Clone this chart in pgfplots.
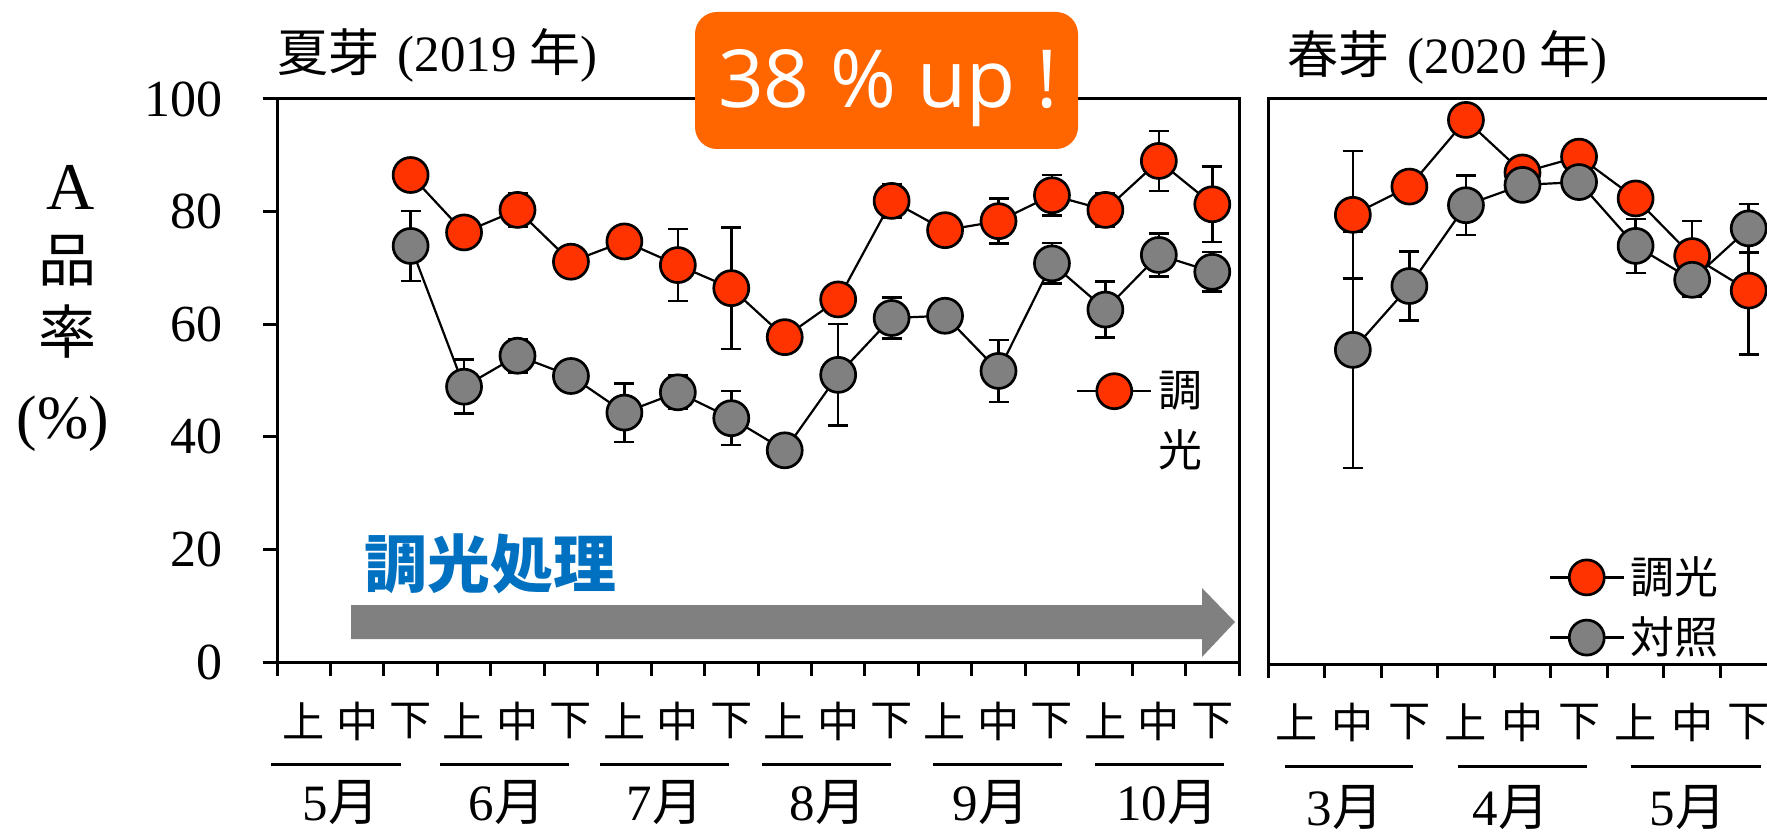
\documentclass[border=0pt]{standalone}
\usepackage{pgfplots}
\usepackage{pgfplotstable}
\pgfplotsset{compat=1.18}
\usepackage{fontspec}
\setmainfont{Liberation Serif}
\newfontfamily\cjk{Noto Sans CJK JP}
\newfontfamily\badgefont{Open Sans}

\definecolor{dimmed}{HTML}{FF3300}
\definecolor{control}{HTML}{808080}
\definecolor{badge}{HTML}{FF6600}
\definecolor{procblue}{HTML}{0070C0}

% slot index (centre of each ten-day period), mean, error
\pgfplotstableread{
x    y    e
2.5  86.5 0
3.5  76.3 0
4.5  80.3 3.0
5.5  71.1 0
6.5  74.7 0
7.5  70.5 6.4
8.5  66.4 10.8
9.5  57.7 0
10.5 64.4 0
11.5 81.9 3.0
12.5 76.7 0
13.5 78.3 4.0
14.5 82.9 3.6
15.5 80.3 3.0
16.5 89.0 5.3
17.5 81.3 6.7
}\summerDim
\pgfplotstableread{
x    y    e
2.5  73.9 6.2
3.5  48.9 4.8
4.5  54.4 3.0
5.5  50.8 0
6.5  44.3 5.2
7.5  47.9 3.0
8.5  43.3 4.8
9.5  37.6 0
10.5 51.0 9.0
11.5 61.1 3.6
12.5 61.5 0
13.5 51.7 5.5
14.5 70.8 3.6
15.5 62.6 5.0
16.5 72.3 3.8
17.5 69.3 3.5
}\summerCtl
\pgfplotstableread{
x    y    e
1.5  79.5 11.3
2.5  84.5 0
3.5  96.3 0
4.5  87.0 2.5
5.5  89.8 0
6.5  82.4 0
7.5  72.2 6.2
8.5  66.1 11.3
}\springDim
\pgfplotstableread{
x    y    e
1.5  55.6 20.9
2.5  66.9 6.1
3.5  81.2 5.3
4.5  84.8 1.5
5.5  85.3 0
6.5  74.0 4.8
7.5  68.0 3.0
8.5  77.1 4.3
}\springCtl

\pgfplotsset{
  panel/.style={
    scale only axis, anchor=south west,
    ymin=0, ymax=100,
    axis line style={line width=0.3mm},
    every tick/.style={black, line width=0.3mm},
    tick align=outside,
    major tick length=1.35mm,
    xtick pos=bottom, ytick pos=left,
    xticklabels={},
    clip=false,
    legend image code/.code={%
      \draw[mark repeat=2, mark phase=2, ##1]
        plot coordinates {(0mm,0mm) (3.7mm,0mm) (7.4mm,0mm)};},
  },
  serie/.style={black, line width=0.22mm, mark=*, mark size=1.75mm,
    mark options={fill=#1, draw=black, line width=0.27mm},
    error bars/y dir=both, error bars/y explicit,
    error bars/error bar style={line width=0.25mm, black},
    error bars/error mark options={rotate=90, mark size=1mm, line width=0.25mm, black}},
}

\newcommand\period[1]{\ifcase#1 上\or 中\or 下\fi}

\begin{document}
\begin{tikzpicture}
\useasboundingbox (0,0) rectangle (176.7mm,83.4mm);
\clip (0,0) rectangle (176.7mm,83.4mm);

% ---- summer buds, 2019 ----
\begin{axis}[panel,
  at={(27.7mm,17.2mm)}, width=96.2mm, height=56.3mm,
  xmin=0, xmax=18, xtick={0,...,18},
  ytick={0,20,...,100},
  yticklabel style={font=\fontsize{14.8}{14.8}\selectfont, anchor=east, inner sep=0pt},
  yticklabel shift=4.0mm,
  /pgf/number format/assume math mode=true,
  legend style={at={(0.83,0.481)}, anchor=west, draw=none, fill=none,
    inner sep=0pt, font=\cjk\fontsize{12.5}{12.5}\selectfont,
    nodes={inner sep=0.6mm}},
]
\addplot[serie=dimmed] table[x=x, y=y, y error=e] {\summerDim};
\addlegendentry{調}
\addplot[forget plot, serie=control] table[x=x, y=y, y error=e] {\summerCtl};
\end{axis}

% ---- spring buds, 2020 ----
\begin{axis}[panel,
  at={(126.8mm,17.0mm)}, width=50.9mm, height=56.5mm,
  xmin=0, xmax=9, xtick={0,...,9},
  ytick=\empty,
  legend style={at={(0.55,0.10)}, anchor=west, draw=none, fill=none,
    inner sep=0pt, font=\cjk\fontsize{12.5}{12.5}\selectfont,
    row sep=0.6mm, nodes={inner sep=0.6mm}},
]
\addplot[serie=dimmed] table[x=x, y=y, y error=e] {\springDim};
\addlegendentry{調光}
\addplot[serie=control] table[x=x, y=y, y error=e] {\springCtl};
\addlegendentry{対照}
\end{axis}

% second line of the wrapped legend label
\node[font=\cjk\fontsize{12.5}{12.5}\selectfont] at (118.0mm,38.4mm) {光};

% titles
\node[anchor=west, inner sep=0pt, font=\fontsize{14.5}{14.5}\selectfont]
  at (27.7mm,77.9mm) {{\cjk 夏芽}\hspace{1.8mm}(2019 {\cjk 年})};
\node[anchor=west, inner sep=0pt, font=\fontsize{14.5}{14.5}\selectfont]
  at (128.7mm,77.7mm) {{\cjk 春芽}\hspace{1.8mm}(2020 {\cjk 年})};

% y-axis caption
\node[font=\fontsize{19}{19}\selectfont] at (7.1mm,64.7mm) {A};
\node[font=\cjk\fontsize{16.5}{16.5}\selectfont] at (6.7mm,57.3mm) {品};
\node[font=\cjk\fontsize{16.5}{16.5}\selectfont] at (6.7mm,50.2mm) {率};
\node[font=\fontsize{17.5}{17.5}\selectfont] at (6.3mm,41.0mm) {(\%)};

% ten-day period labels
\foreach \i in {0,...,17}{
  \pgfmathtruncatemacro\pk{mod(\i,3)}
  \pgfmathsetmacro\px{27.7+5.3444*(\i+0.5)}
  \node[font=\cjk\fontsize{12}{12}\selectfont] at (\px mm, 11.3mm) {\period{\pk}};
}
\foreach \i in {0,...,8}{
  \pgfmathtruncatemacro\pk{mod(\i,3)}
  \pgfmathsetmacro\px{126.8+5.656*(\i+0.5)}
  \node[font=\cjk\fontsize{12}{12}\selectfont] at (\px mm, 11.2mm) {\period{\pk}};
}

% month brackets and names
\foreach \xa/\xb/\xc/\mo in {27.1/40.1/34.1/5, 44.0/56.9/50.7/6, 60.0/72.9/66.5/7,
                          76.2/89.1/82.8/8, 93.3/106.2/99.1/9, 109.5/122.4/116.7/10}{
  \draw[line width=0.3mm] (\xa mm,7.0mm) -- (\xb mm,7.0mm);
  \node[font=\fontsize{14.5}{14.5}\selectfont] at (\xc mm,3.1mm) {\mo{\cjk 月}};
}
\foreach \xa/\xb/\xc/\mo in {128.5/141.3/134.5/3, 145.8/158.7/151.1/4, 163.1/176.1/168.8/5}{
  \draw[line width=0.3mm] (\xa mm,6.8mm) -- (\xb mm,6.8mm);
  \node[font=\fontsize{14.5}{14.5}\selectfont] at (\xc mm,2.6mm) {\mo{\cjk 月}};
}

% treatment period arrow
\fill[control] (35.1mm,22.9mm) -- (120.2mm,22.9mm) -- (120.2mm,24.6mm)
  -- (123.5mm,21.2mm) -- (120.2mm,17.7mm) -- (120.2mm,19.5mm)
  -- (35.1mm,19.5mm) -- cycle;
\node[anchor=west, inner sep=0pt, text=procblue,
  font=\cjk\bfseries\fontsize{17.9}{17.9}\selectfont] at (36.4mm,27.0mm) {調光処理};

% highlight badge
\fill[badge, rounded corners=2.2mm] (69.5mm,68.5mm) rectangle (107.8mm,82.2mm);
\node[anchor=base, inner sep=0pt, text=white,
  font=\badgefont\fontsize{22.8}{22.8}\selectfont] at (88.8mm,72.6mm) {38 \% up !};
\end{tikzpicture}
\end{document}
